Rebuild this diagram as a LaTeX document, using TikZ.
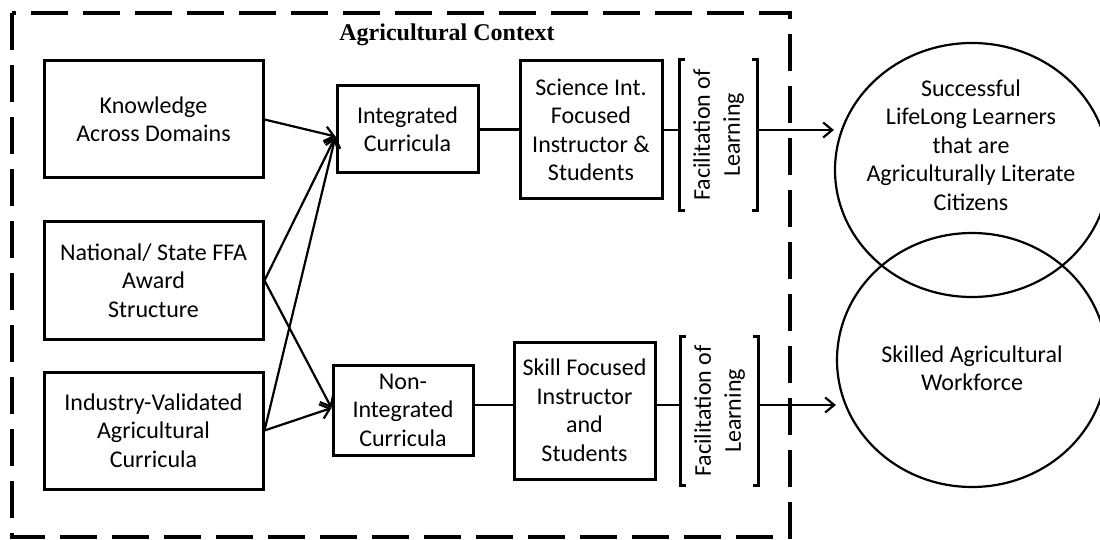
\documentclass[tikz,border=0pt]{standalone}
\usepackage{fontspec}
\setmainfont{Carlito}
\newfontfamily\titulo{Liberation Serif}
\usetikzlibrary{arrows.meta, shapes.geometric, calc}
\tikzset{
	>={Straight Barb[length=9pt,width=15pt]}, % Puntas de flecha abiertas
	caja/.style={draw, line width=3pt, align=center, inner sep=0pt,
		font=\fontsize{24}{28.5}\selectfont}, % Cajas rectangulares
	flecha/.style={->, line width=2.2pt}, % Arcos dirigidos
	linea/.style={line width=2.2pt}, % Uniones sin punta
	corchete/.style={line width=3pt}, % Corchetes de la facilitacion
	marco/.style={inner sep=0pt}, % Hueco entre corchetes
	circulo/.style={draw, ellipse, line width=2.2pt, minimum width=274pt,
		minimum height=254pt, inner sep=0pt}, % Resultados
	texto/.style={align=center, font=\fontsize{24}{28.5}\selectfont} % Texto suelto
}

\begin{document}
\begin{tikzpicture}[x=1pt, y=-1pt]
	\useasboundingbox (0,0) rectangle (1100,540);
	% contexto
	\draw[line width=4.5pt, dash pattern=on 37pt off 15pt] (12,13) rectangle (790,537);
	\node[font=\titulo\bfseries\fontsize{24}{28}\selectfont] (ctx) at (447,35) {Agricultural Context};

	% entradas
	\node[caja, minimum width=219pt, minimum height=117pt] (K) at (153.5,119.5) {Knowledge\\Across Domains};
	\node[caja, minimum width=219pt, minimum height=117pt] (N) at (153.5,280.5) {National/ State FFA\\Award\\Structure};
	\node[caja, minimum width=219pt, minimum height=117pt] (IV) at (153.5,430.5) {Industry-Validated\\Agricultural\\Curricula};

	% curriculos
	\node[caja, minimum width=141pt, minimum height=87pt] (I) at (407.5,129.5) {Integrated\\Curricula};
	\node[caja, minimum width=140pt, minimum height=90pt] (NI) at (403,410) {Non-\\Integrated\\Curricula};

	% instructores
	\node[caja, minimum width=142pt, minimum height=138pt] (S) at (591,130) {Science Int.\\Focused\\Instructor \&\\Students};
	\node[caja, minimum width=141pt, minimum height=137pt] (SK) at (584.5,410.5) {Skill Focused\\Instructor\\and\\Students};

	% facilitacion
	\node[marco, minimum width=77pt, minimum height=150pt] (F1) at (718.5,135) {};
	\node[marco, minimum width=77pt, minimum height=148pt] (F2) at (719.5,411) {};
	\node[texto, rotate=90, font=\fontsize{24}{30}\selectfont] (FT1) at (F1) {Facilitation of\\Learning};
	\node[texto, rotate=90, font=\fontsize{24}{30}\selectfont] (FT2) at (F2) {Facilitation of\\Learning};
	\draw[corchete] ([xshift=5pt]F1.north west) -- (F1.north west) -- (F1.south west) -- ([xshift=5pt]F1.south west);
	\draw[corchete] ([xshift=-5pt]F1.north east) -- (F1.north east) -- (F1.south east) -- ([xshift=-5pt]F1.south east);
	\draw[corchete] ([xshift=5pt]F2.north west) -- (F2.north west) -- (F2.south west) -- ([xshift=5pt]F2.south west);
	\draw[corchete] ([xshift=-5pt]F2.north east) -- (F2.north east) -- (F2.south east) -- ([xshift=-5pt]F2.south east);

	% resultados
	\node[circulo] (E1) at (972,170) {};
	\node[circulo, minimum width=270pt] (E2) at (972,360) {};
	\node[texto] (T1) at (971,145) {Successful\\LifeLong Learners\\that are\\Agriculturally Literate\\Citizens};
	\node[texto] (T2) at (972,368) {Skilled Agricultural\\Workforce};

	% arcos de entrada
	\coordinate (Ien) at ($(I.west)+(0,7)$);
	\coordinate (NIen) at ($(NI.west)+(0,-2)$);
	\draw[flecha] (K.east) -- (Ien);
	\draw[flecha] (N.east) -- (Ien);
	\draw[flecha] (IV.east) -- (Ien);
	\draw[flecha] (N.east) -- (NIen);
	\draw[flecha] (IV.east) -- (NIen);

	% rama integrada
	\draw[linea] (I.east) -- (I.east -| S.west);
	\draw[linea] (S.east) -- (S.east -| F1.west);
	\draw[flecha] (S.east -| F1.east) -- (S.east -| E1.west);

	% rama no integrada
	\coordinate (c2) at ([yshift=5pt]NI.east);
	\draw[linea] (c2) -- (c2 -| SK.west);
	\draw[linea] (c2 -| SK.east) -- (c2 -| F2.west);
	\draw[flecha] (c2 -| F2.east) -- (c2 -| E2.west);
\end{tikzpicture}
\end{document}
